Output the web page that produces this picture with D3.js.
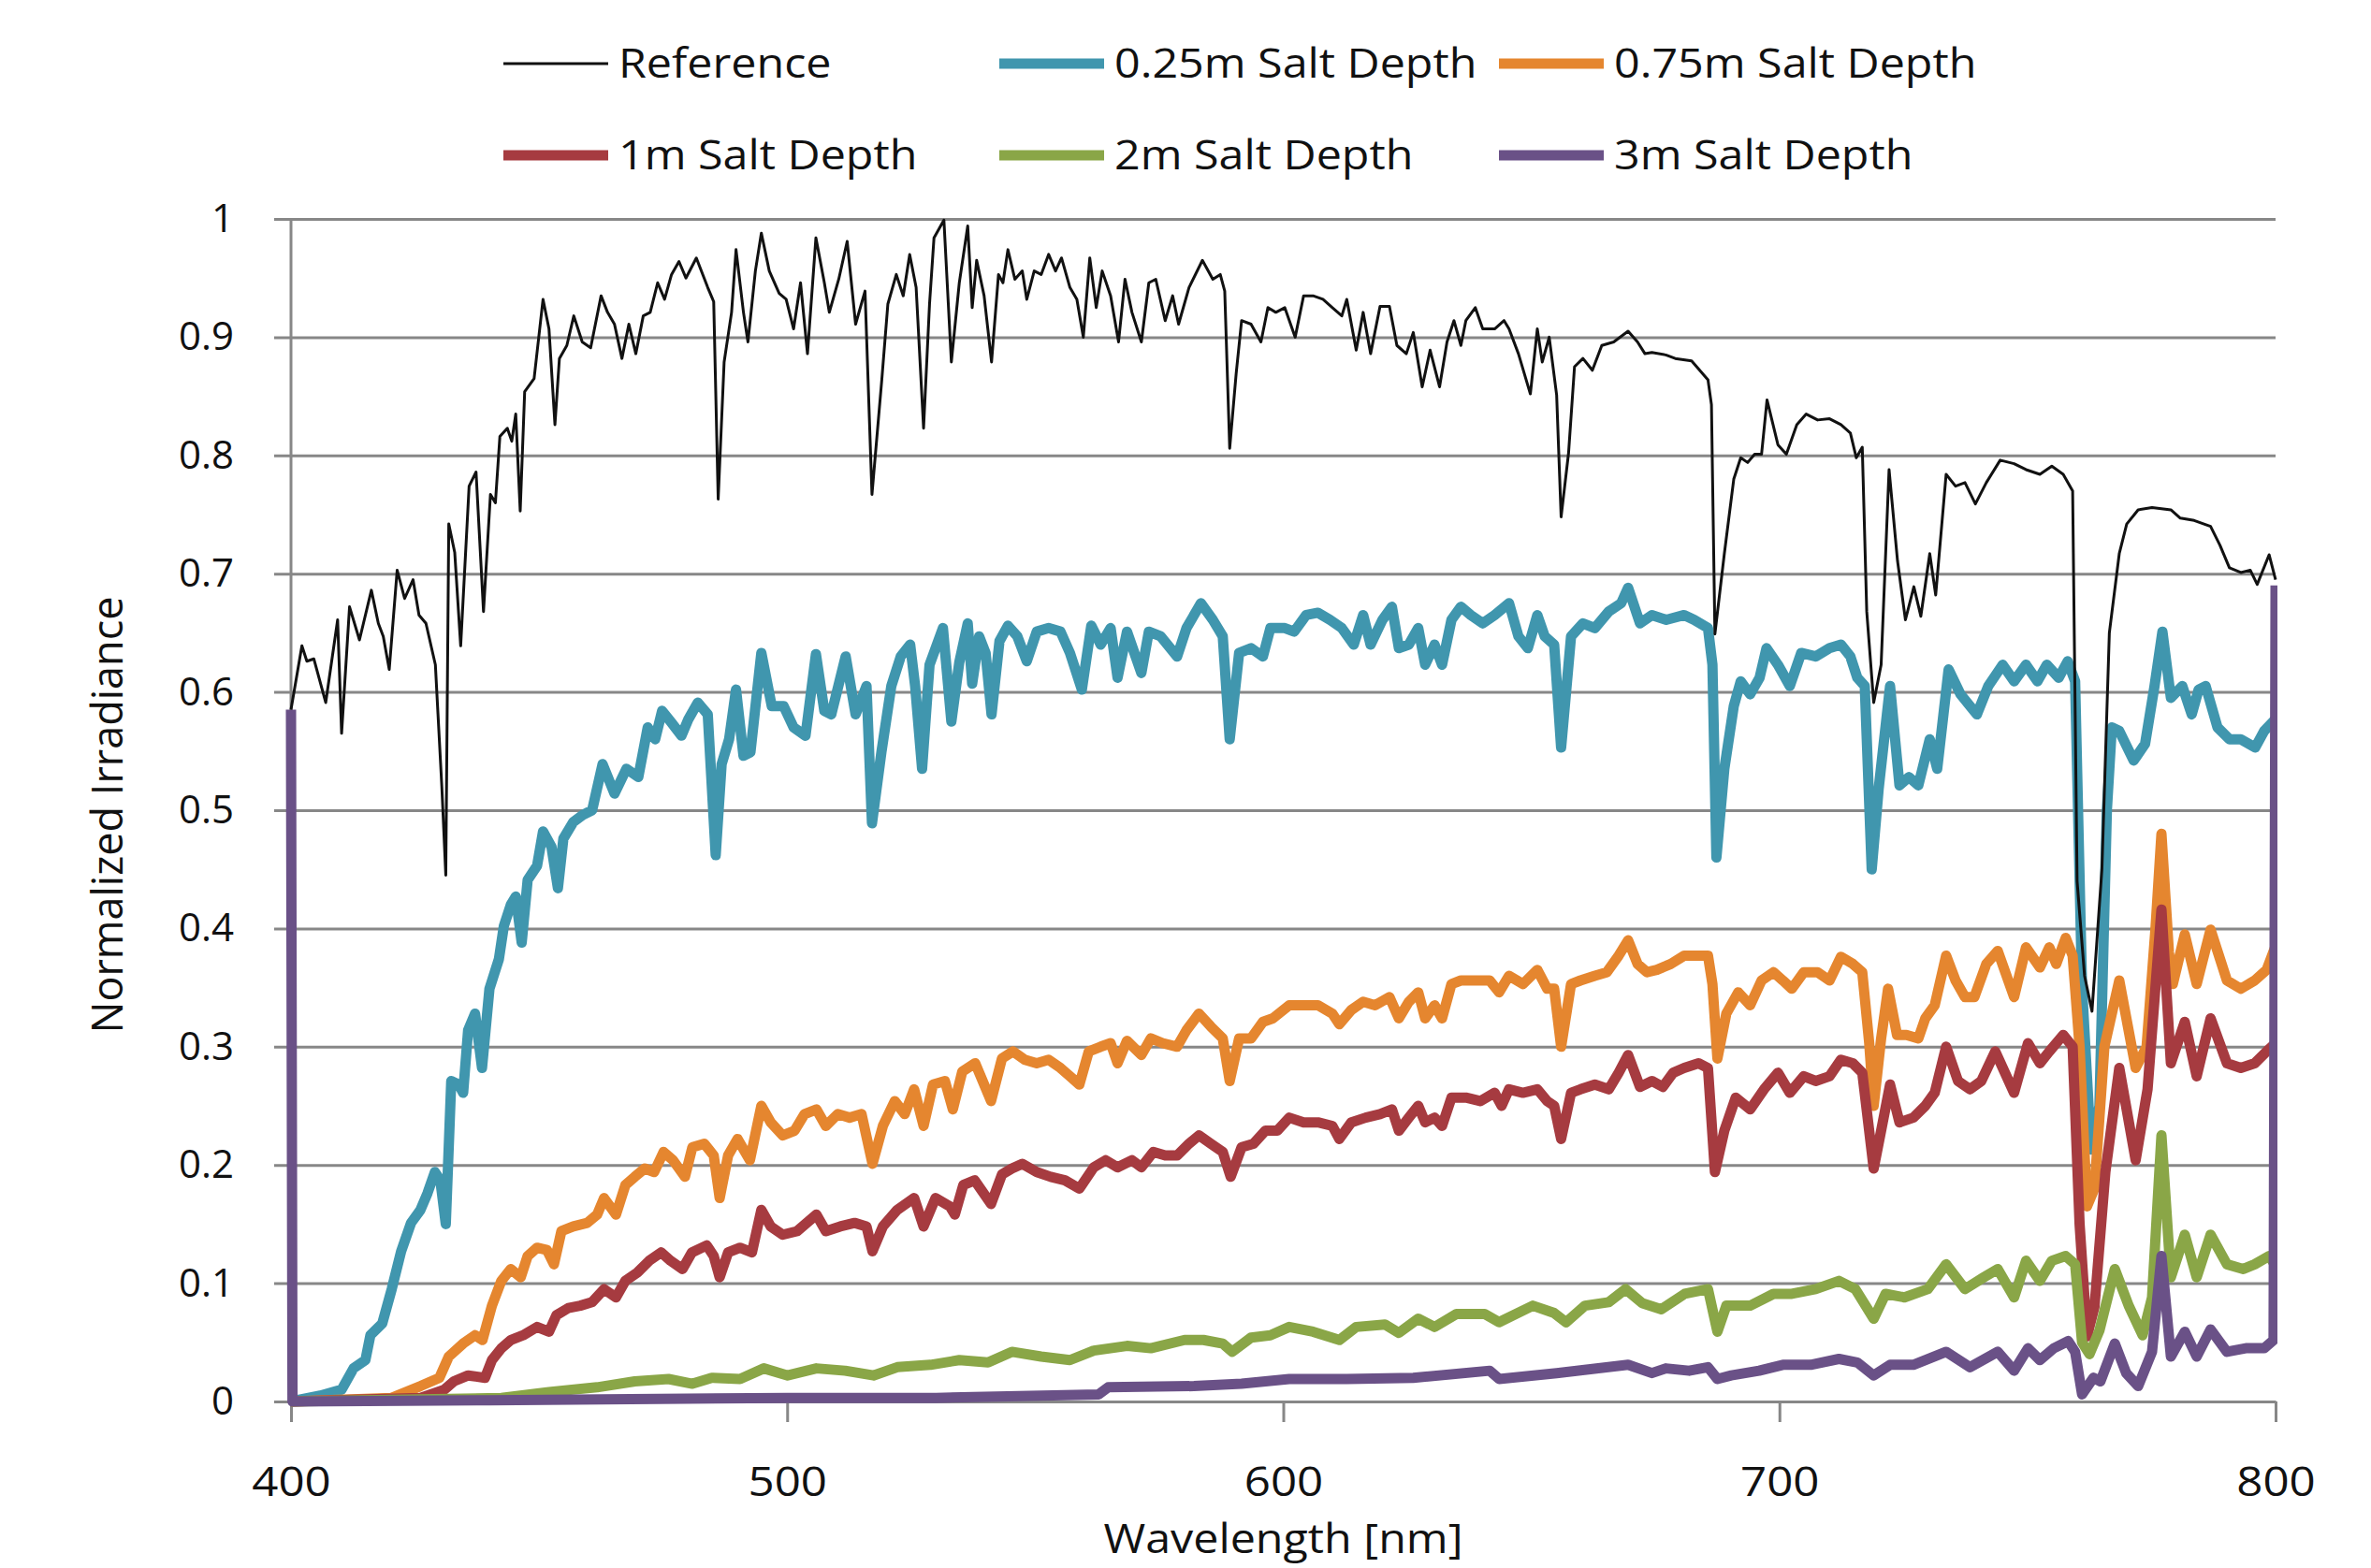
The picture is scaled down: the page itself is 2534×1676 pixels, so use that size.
<!DOCTYPE html>
<html>
<head>
<meta charset="utf-8">
<script src="https://cdnjs.cloudflare.com/ajax/libs/d3/7.8.5/d3.min.js"></script>
<style>
  body { margin: 0; background: #fff; }
  text { font-family: "Open Sans", "Liberation Sans", sans-serif; fill: #111; }
</style>
</head>
<body>
<svg width="2534" height="1676"></svg>
<script>
// series names, in legend order
var seriesNames = ["Reference", "0.25m Salt Depth", "0.75m Salt Depth", "1m Salt Depth", "2m Salt Depth", "3m Salt Depth"];
var xTicks = [400, 500, 600, 700, 800];
var yTicks = [0, 0.1, 0.2, 0.3, 0.4, 0.5, 0.6, 0.7, 0.8, 0.9, 1];

// [wavelength nm, normalized irradiance]
var reference = [[400,0.585],[402.2,0.639],[403.2,0.626],[404.6,0.628],[407,0.591],[409.4,0.661],[410.2,0.565],[411.8,0.672],[413.8,0.644],[416.2,0.686],[417.6,0.658],[418.6,0.647],[419.8,0.619],[421.4,0.703],[422.9,0.679],[424.6,0.695],[425.8,0.665],[427.2,0.658],[429.1,0.623],[430.4,0.52],[431.2,0.445],[431.8,0.742],[433,0.718],[434.2,0.639],[435.9,0.774],[437.3,0.786],[438.8,0.668],[440.2,0.767],[441.2,0.76],[442.1,0.816],[443.6,0.823],[444.5,0.812],[445.3,0.835],[446.2,0.753],[447.1,0.854],[449,0.865],[450.8,0.932],[452,0.907],[453.2,0.826],[454.1,0.882],[455.6,0.893],[457,0.918],[458.7,0.896],[460.4,0.891],[462.5,0.935],[463.8,0.921],[465.2,0.911],[466.7,0.882],[468.1,0.911],[469.5,0.886],[471,0.918],[472.4,0.921],[473.9,0.946],[475.3,0.932],[476.7,0.953],[478.2,0.964],[479.6,0.95],[481.7,0.967],[484,0.942],[485.2,0.93],[486.1,0.763],[487.3,0.879],[488.8,0.921],[489.7,0.974],[491.2,0.921],[492.1,0.896],[493.6,0.956],[494.8,0.988],[496.4,0.956],[498.4,0.937],[499.8,0.932],[501.3,0.907],[502.7,0.946],[504.1,0.886],[505.8,0.984],[507.5,0.946],[508.5,0.921],[510.4,0.949],[512.1,0.981],[513.8,0.911],[515.7,0.939],[517.1,0.767],[519.1,0.865],[520.3,0.928],[522,0.953],[523.4,0.935],[524.7,0.97],[526,0.942],[527.5,0.823],[528.7,0.928],[529.6,0.984],[531.6,0.999],[533.1,0.879],[534.7,0.946],[536.4,0.994],[537.3,0.925],[538.2,0.965],[539.7,0.935],[541.2,0.879],[542.6,0.953],[543.5,0.946],[544.5,0.974],[545.9,0.949],[547.4,0.956],[548.3,0.932],[549.8,0.956],[551.2,0.953],[552.7,0.97],[554.1,0.956],[555.3,0.967],[557,0.942],[558.4,0.932],[559.7,0.9],[561,0.967],[562.3,0.925],[563.5,0.956],[565.2,0.935],[566.8,0.896],[568.1,0.949],[569.5,0.921],[571.4,0.896],[572.9,0.946],[574.3,0.949],[576.2,0.914],[577.7,0.935],[578.9,0.911],[581,0.942],[583.7,0.965],[585.8,0.949],[587.3,0.953],[588.2,0.939],[589.2,0.806],[590.5,0.869],[591.6,0.914],[593.5,0.911],[595.5,0.896],[596.9,0.925],[598.5,0.921],[600.3,0.925],[602.4,0.9],[604.1,0.935],[606,0.935],[608,0.932],[609.9,0.925],[611.8,0.918],[612.8,0.932],[614.7,0.889],[616.1,0.921],[617.6,0.886],[619.5,0.926],[621.4,0.926],[622.9,0.893],[624.8,0.886],[626.2,0.904],[628,0.858],[629.6,0.889],[631.5,0.858],[633,0.896],[634.4,0.914],[635.8,0.893],[636.8,0.914],[638.7,0.925],[640.2,0.907],[642.6,0.907],[644.5,0.914],[645.5,0.907],[647.4,0.886],[649.8,0.852],[651.2,0.907],[652.2,0.879],[653.6,0.9],[655.1,0.851],[656,0.748],[657.5,0.802],[658.7,0.875],[660.4,0.882],[662.3,0.872],[664.2,0.893],[666.6,0.896],[669.5,0.905],[671.4,0.896],[672.9,0.886],[674.3,0.887],[677.1,0.885],[679,0.882],[682.3,0.88],[685.6,0.864],[686.3,0.843],[687,0.649],[688.9,0.717],[690.8,0.78],[692.2,0.798],[693.6,0.794],[695,0.801],[696.4,0.801],[697.5,0.847],[699.7,0.809],[701.4,0.801],[703.5,0.826],[705.4,0.835],[707.7,0.83],[710.1,0.831],[712.4,0.826],[714.3,0.819],[715.5,0.798],[716.7,0.807],[717.6,0.668],[719,0.591],[720.5,0.623],[722.1,0.788],[723.8,0.711],[725.4,0.661],[727.1,0.689],[728.5,0.664],[730.3,0.717],[731.5,0.682],[733.6,0.784],[735.5,0.774],[737.4,0.777],[739.5,0.759],[741.7,0.777],[744.5,0.796],[747.3,0.793],[749.7,0.788],[752.5,0.784],[754.9,0.791],[757.2,0.784],[759.1,0.77],[760,0.44],[761.5,0.36],[763,0.33],[765,0.45],[766.5,0.65],[768.5,0.717],[770,0.742],[772.3,0.754],[775.1,0.756],[778.9,0.754],[780.8,0.747],[783.6,0.745],[786.9,0.74],[788.8,0.724],[790.7,0.705],[793,0.701],[794.9,0.703],[796.3,0.691],[798.7,0.716],[800,0.695]];

var depth025 = [[400,0],[405.9,0.005],[410.2,0.01],[412.6,0.028],[415,0.035],[416,0.056],[418.4,0.066],[420.3,0.095],[422.2,0.127],[424.2,0.151],[426.1,0.162],[427.5,0.176],[429,0.194],[430.1,0.187],[431.2,0.15],[432.3,0.271],[433.8,0.268],[434.7,0.261],[435.7,0.314],[437.1,0.328],[438.5,0.282],[440,0.349],[441.9,0.374],[442.9,0.402],[444.3,0.42],[445.3,0.427],[446.5,0.388],[447.7,0.441],[449.6,0.453],[450.8,0.482],[451.6,0.476],[452.5,0.469],[453.8,0.434],[454.9,0.476],[456.9,0.49],[458.8,0.496],[460.7,0.5],[462.8,0.539],[465.2,0.514],[467.6,0.535],[470,0.528],[471.9,0.57],[473.4,0.56],[474.8,0.584],[476.7,0.574],[478.7,0.563],[480.1,0.577],[482,0.591],[484,0.581],[485.6,0.462],[486.8,0.539],[488.3,0.56],[489.7,0.602],[491.2,0.546],[492.6,0.549],[494.8,0.633],[496.9,0.588],[499.3,0.588],[501.3,0.57],[503.7,0.563],[505.8,0.632],[507.5,0.584],[508.9,0.581],[511.8,0.63],[513.8,0.581],[516,0.605],[517.1,0.489],[519,0.549],[521,0.605],[522.9,0.63],[524.8,0.64],[525.8,0.605],[527.2,0.535],[528.7,0.623],[531.4,0.654],[533.1,0.575],[534.7,0.625],[536.4,0.658],[537.3,0.607],[538.7,0.647],[540,0.633],[541.2,0.581],[542.8,0.643],[544.5,0.656],[546.4,0.647],[548.3,0.626],[550.3,0.651],[552.7,0.654],[555.1,0.651],[557,0.633],[559.4,0.602],[561.3,0.656],[563.2,0.64],[565.2,0.654],[566.6,0.612],[568.5,0.651],[571.4,0.616],[572.9,0.651],[575.3,0.647],[578.6,0.63],[580.5,0.654],[583.4,0.675],[585.8,0.661],[587.8,0.647],[589.2,0.56],[591.1,0.633],[593.5,0.637],[595.9,0.63],[597.4,0.654],[600.3,0.654],[602.2,0.651],[604.6,0.665],[607,0.667],[609.4,0.661],[611.8,0.654],[614.2,0.64],[616.1,0.665],[617.6,0.64],[620,0.661],[621.9,0.672],[623.3,0.637],[625.3,0.64],[627.2,0.654],[628.6,0.623],[630.5,0.64],[632,0.623],[633.9,0.661],[635.8,0.672],[637.8,0.665],[640.2,0.658],[642.6,0.665],[645.5,0.675],[647.4,0.647],[649.3,0.637],[651.2,0.665],[652.7,0.647],[654.6,0.64],[656,0.553],[658,0.647],[660.4,0.658],[662.8,0.654],[665.6,0.668],[668.1,0.675],[669.5,0.688],[671.9,0.658],[674.3,0.665],[677.2,0.661],[680.8,0.665],[682.8,0.661],[685.6,0.654],[686.5,0.623],[687.3,0.46],[688.9,0.535],[690.8,0.588],[692.2,0.609],[694.1,0.598],[696,0.612],[697.4,0.637],[699.7,0.623],[702.1,0.605],[704.4,0.633],[707.3,0.63],[710.1,0.637],[712.4,0.64],[714.3,0.63],[715.7,0.612],[717.2,0.605],[718.6,0.45],[720,0.518],[722.3,0.605],[724.2,0.521],[726.1,0.528],[728,0.521],[730.3,0.56],[731.8,0.535],[734.1,0.619],[736.5,0.598],[739.8,0.581],[742.1,0.605],[745,0.623],[747.3,0.609],[749.7,0.623],[752,0.609],[753.9,0.623],[756.3,0.612],[758.1,0.626],[759.6,0.609],[761,0.35],[762.8,0.213],[764.5,0.25],[766,0.5],[767,0.57],[768.5,0.567],[771.4,0.542],[773.7,0.556],[775.6,0.605],[777.2,0.651],[778.9,0.595],[781.2,0.605],[783.1,0.581],[784.5,0.602],[785.9,0.605],[788.3,0.57],[790.7,0.56],[793,0.56],[795.9,0.553],[797.7,0.567],[800,0.577]];

var depth075 = [[400,0],[420.3,0.003],[426.1,0.013],[429.9,0.02],[431.8,0.038],[434.7,0.049],[437.1,0.056],[438.6,0.052],[440.5,0.081],[442.4,0.102],[444.3,0.112],[446.3,0.105],[447.7,0.123],[449.6,0.13],[451.6,0.128],[453,0.116],[454.5,0.144],[456.9,0.148],[459.7,0.151],[461.7,0.158],[463.1,0.172],[465.5,0.158],[467.4,0.183],[469.3,0.19],[471.3,0.197],[473.2,0.194],[475.1,0.211],[477,0.204],[479.4,0.19],[480.9,0.215],[483.3,0.218],[485.2,0.208],[486.4,0.172],[488.1,0.208],[490,0.222],[492.5,0.204],[494.8,0.25],[496.7,0.236],[499.1,0.225],[501.5,0.229],[503.5,0.243],[505.9,0.247],[507.8,0.233],[510.2,0.243],[512.6,0.24],[515,0.243],[517.2,0.201],[519.3,0.233],[521.7,0.254],[523.7,0.243],[525.6,0.264],[527.5,0.233],[529.4,0.268],[531.8,0.271],[533.4,0.247],[535.3,0.279],[537.9,0.286],[541.1,0.254],[543.3,0.29],[545.5,0.296],[547.9,0.289],[550.3,0.286],[552.7,0.289],[555.1,0.282],[557,0.275],[558.9,0.268],[560.8,0.296],[563.2,0.3],[565.2,0.303],[566.6,0.286],[568.5,0.305],[571.4,0.293],[573.3,0.307],[575.7,0.303],[578.6,0.3],[580.5,0.314],[583,0.328],[585.4,0.317],[587.8,0.307],[589.2,0.271],[591.1,0.307],[593.5,0.307],[595.9,0.321],[597.9,0.324],[601.2,0.335],[604.1,0.335],[607,0.335],[609.9,0.328],[611.3,0.319],[613.7,0.331],[616.1,0.338],[618.5,0.335],[621.4,0.342],[623.3,0.324],[625.3,0.338],[627.2,0.346],[628.6,0.324],[630.5,0.335],[632,0.324],[633.9,0.353],[635.8,0.356],[638.7,0.356],[641.6,0.356],[643.5,0.346],[645.5,0.36],[648.3,0.353],[651.2,0.365],[653.2,0.349],[654.6,0.349],[656,0.3],[658,0.353],[659.9,0.356],[662.8,0.36],[665.2,0.363],[667.6,0.377],[669.5,0.39],[671.4,0.37],[673.3,0.363],[675.3,0.365],[678.1,0.37],[680.8,0.377],[682.8,0.377],[685.6,0.377],[686.5,0.353],[687.5,0.29],[689.3,0.328],[691.7,0.346],[694.1,0.335],[696.4,0.356],[698.8,0.363],[700.7,0.356],[702.5,0.349],[704.9,0.363],[707.7,0.363],[710.1,0.356],[712.4,0.376],[714.8,0.37],[716.7,0.363],[718.1,0.303],[719,0.25],[720.5,0.307],[721.9,0.349],[723.7,0.31],[725.6,0.31],[728,0.307],[729.4,0.324],[731.3,0.335],[733.6,0.377],[735.5,0.356],[737.4,0.342],[739.3,0.342],[741.7,0.37],[744,0.381],[747.3,0.342],[749.7,0.384],[752.5,0.367],[754.4,0.384],[755.8,0.37],[757.7,0.392],[759.1,0.377],[760.5,0.3],[762,0.165],[763.5,0.18],[765.5,0.3],[768.5,0.356],[771.8,0.282],[774,0.3],[775.8,0.4],[777,0.48],[778.5,0.38],[779.3,0.353],[781.7,0.395],[784.1,0.353],[786.9,0.399],[790.2,0.356],[793,0.349],[795.8,0.356],[798.2,0.365],[800,0.385]];

var depth1 = [[400,0],[426.1,0.003],[430.9,0.01],[432.8,0.017],[435.7,0.022],[439.1,0.02],[440.5,0.035],[442.4,0.045],[444.3,0.052],[446.8,0.056],[449.6,0.063],[452,0.059],[453.5,0.073],[455.9,0.079],[458.3,0.081],[460.7,0.084],[463.1,0.095],[465.5,0.088],[467.4,0.102],[469.8,0.109],[472.2,0.119],[474.6,0.126],[476.5,0.119],[478.9,0.112],[480.8,0.126],[483.8,0.132],[485.2,0.123],[486.4,0.105],[488.1,0.126],[490.5,0.13],[492.9,0.126],[494.8,0.162],[496.7,0.148],[499.1,0.141],[502,0.144],[505.9,0.158],[507.8,0.144],[510.7,0.148],[513.6,0.151],[516,0.148],[517.2,0.127],[519.3,0.148],[522.2,0.162],[525.6,0.172],[527.5,0.148],[529.9,0.172],[532.8,0.165],[533.8,0.158],[535.5,0.183],[537.8,0.187],[541.1,0.167],[543.3,0.192],[545.3,0.197],[547.4,0.201],[550.3,0.194],[553.1,0.19],[556,0.187],[558.9,0.18],[561.8,0.198],[564.2,0.204],[566.6,0.198],[569.5,0.204],[571.4,0.198],[573.8,0.211],[576.2,0.208],[578.6,0.208],[581,0.218],[583,0.225],[585.4,0.218],[587.8,0.211],[589.4,0.19],[591.6,0.215],[594,0.218],[596.4,0.229],[598.8,0.229],[601.2,0.24],[604.1,0.236],[607,0.236],[609.9,0.233],[611.3,0.222],[613.7,0.236],[616.6,0.24],[619.5,0.243],[621.9,0.247],[623.3,0.229],[625.3,0.24],[627.2,0.25],[628.6,0.236],[630.5,0.24],[632,0.233],[633.9,0.257],[636.8,0.257],[639.7,0.254],[642.6,0.261],[644,0.25],[645.5,0.264],[648.3,0.261],[651.2,0.264],[653.2,0.254],[654.6,0.25],[656,0.222],[658,0.261],[659.9,0.264],[662.8,0.268],[665.6,0.264],[667.6,0.278],[669.5,0.293],[671.9,0.266],[674.3,0.271],[676.5,0.266],[678.6,0.278],[680.8,0.282],[683.7,0.286],[685.6,0.282],[687,0.194],[688.9,0.229],[691.2,0.257],[694.1,0.247],[696.9,0.264],[699.7,0.278],[702.1,0.261],[704.9,0.275],[707.3,0.271],[710.1,0.275],[712.4,0.289],[714.8,0.286],[716.7,0.278],[719,0.197],[720.5,0.229],[722.3,0.268],[724.2,0.236],[727,0.24],[729.4,0.25],[731.3,0.261],[733.6,0.3],[736,0.271],[738.4,0.264],[740.7,0.271],[743.5,0.296],[747.3,0.261],[750.1,0.303],[752.5,0.286],[754.4,0.296],[757.2,0.31],[759.1,0.3],[760.5,0.15],[762,0.055],[763.5,0.08],[765.7,0.194],[768.5,0.282],[771.8,0.204],[774.2,0.264],[777,0.416],[778.9,0.286],[781.7,0.321],[784.1,0.275],[786.9,0.324],[790.2,0.286],[793,0.282],[795.8,0.286],[798.2,0.296],[800,0.303]];

var depth2 = [[400,0],[442.4,0.003],[452,0.008],[461.7,0.012],[469.3,0.017],[476.1,0.019],[480.9,0.015],[484.8,0.02],[490.5,0.019],[495.3,0.028],[500.1,0.022],[505.9,0.028],[511.7,0.026],[517.4,0.022],[522.2,0.029],[528.9,0.031],[534.7,0.035],[540.5,0.033],[545.3,0.042],[551.2,0.038],[557,0.035],[561.8,0.043],[568.5,0.047],[573.3,0.045],[580.1,0.052],[583.9,0.052],[587.8,0.049],[589.7,0.042],[593.5,0.054],[597.4,0.056],[601.2,0.063],[606,0.059],[611.3,0.052],[614.7,0.063],[620.5,0.065],[623.3,0.058],[627.2,0.07],[630.5,0.063],[634.9,0.074],[640.6,0.074],[643.5,0.067],[650.3,0.081],[654.5,0.075],[657,0.067],[660.8,0.081],[665.6,0.084],[669,0.095],[672.4,0.083],[676.2,0.078],[680.9,0.091],[685.6,0.095],[687.5,0.059],[689.3,0.081],[694.1,0.081],[698.8,0.091],[702.5,0.091],[707.3,0.095],[712,0.102],[715.3,0.095],[719,0.07],[721.4,0.091],[725.2,0.088],[729.9,0.095],[733.6,0.116],[737.4,0.095],[741.2,0.105],[744,0.112],[747.3,0.088],[749.7,0.119],[752.5,0.102],[754.9,0.119],[757.7,0.123],[759.6,0.116],[761,0.05],[762.5,0.04],[764.5,0.06],[767.6,0.112],[770.4,0.081],[773.2,0.056],[775.1,0.088],[777,0.225],[778.9,0.105],[781.7,0.141],[784.1,0.105],[786.9,0.141],[790.2,0.116],[793.5,0.112],[795.8,0.116],[798.7,0.123],[800,0.115]];

var depth3 = [[400,0.585],[400.3,0],[440,0.001],[500,0.003],[530,0.003],[562.8,0.006],[564.7,0.012],[582,0.013],[591.6,0.015],[601.2,0.019],[612.8,0.019],[626.2,0.02],[641.6,0.026],[643.5,0.019],[655.1,0.024],[669.5,0.031],[674.3,0.024],[677.1,0.028],[681.8,0.026],[685.6,0.029],[687.5,0.019],[690.3,0.022],[695.9,0.026],[700.7,0.031],[706.3,0.031],[712,0.036],[715.7,0.033],[719,0.022],[722.3,0.031],[727,0.031],[733.6,0.042],[738.4,0.029],[744,0.042],[747.3,0.026],[750.1,0.045],[752.5,0.035],[755.3,0.045],[758.2,0.051],[759.6,0.042],[761,0.006],[763.3,0.02],[764.7,0.017],[767.6,0.049],[769.9,0.024],[772.3,0.013],[775.1,0.042],[777,0.123],[778.9,0.038],[781.7,0.059],[784.1,0.038],[786.9,0.061],[790.2,0.042],[794,0.045],[797.7,0.045],[799.6,0.052],[800,0.69]];

var colors = ["#111111", "#4096ae", "#e5862f", "#a63b40", "#8aa647", "#6a5187"];
var widths = [3, 11, 11, 11, 11, 11];
var allSeries = [reference, depth025, depth075, depth1, depth2, depth3];

var svg = d3.select("svg"),
    plotLeft = 311, plotRight = 2432, plotTop = 234, plotBottom = 1498;

var x = d3.scaleLinear().domain([400, 800]).range([plotLeft, plotRight]);
var y = d3.scaleLinear().domain([0, 1]).range([plotBottom, plotTop]);

// gridlines + y axis labels
var yAxis = svg.append("g")
    .attr("transform", "translate(" + plotLeft + ",0)")
    .call(d3.axisLeft(y).tickValues(yTicks).tickFormat(d3.format("~g"))
      .tickSizeInner(0).tickSizeOuter(0).tickPadding(61));
yAxis.select(".domain").remove();
yAxis.selectAll(".tick line")
    .attr("x1", -18).attr("x2", plotRight - plotLeft)
    .attr("stroke", "#878787").attr("stroke-width", 3);
yAxis.selectAll(".tick text")
    .style("font-size", "42px").attr("fill", "#111");

// y axis line
svg.append("line")
    .attr("x1", plotLeft).attr("x2", plotLeft).attr("y1", plotTop).attr("y2", plotBottom)
    .attr("stroke", "#878787").attr("stroke-width", 3);

var xAxis = svg.append("g")
    .attr("transform", "translate(0," + plotBottom + ")")
    .call(d3.axisBottom(x).tickValues(xTicks).tickFormat(d3.format("d"))
      .tickSizeInner(22).tickSizeOuter(0).tickPadding(48));
xAxis.select(".domain").attr("stroke", "#878787").attr("stroke-width", 3);
xAxis.selectAll(".tick line").attr("stroke", "#878787").attr("stroke-width", 3);
xAxis.selectAll(".tick text")
    .style("font-size", "44px").attr("fill", "#111")
    .attr("transform", "scale(1.12,1)");

svg.append("defs").append("clipPath").attr("id", "plotclip")
  .append("rect").attr("x", 300).attr("y", 0).attr("width", plotRight - 300 + 2).attr("height", 1676);

var line = d3.line()
    .x(function(d) { return x(d[0]); })
    .y(function(d) { return y(d[1]); });

// draw coloured series first, reference last (it sits on top in the original)
var order = [1, 2, 3, 4, 5, 0];
var plot = svg.append("g").attr("clip-path", "url(#plotclip)");
order.forEach(function(i) {
  plot.append("path")
      .datum(allSeries[i])
      .attr("d", line)
      .attr("fill", "none")
      .attr("stroke", colors[i])
      .attr("stroke-width", widths[i])
      .attr("stroke-linejoin", "round");
});

// legend, two rows of three
var legendCols = [538, 1068, 1602];
var legendRows = [68, 166];
seriesNames.forEach(function(name, i) {
  var cx = legendCols[i % 3], cy = legendRows[Math.floor(i / 3)];
  svg.append("line")
      .attr("x1", cx).attr("x2", cx + 112).attr("y1", cy).attr("y2", cy)
      .attr("stroke", colors[i]).attr("stroke-width", i === 0 ? 3 : 11);
  svg.append("text")
      .attr("transform", "translate(" + (cx + 123) + "," + (cy + 15) + ") scale(1.1,1)")
      .style("font-size", "44px")
      .text(name);
});

// axis titles
svg.append("text")
    .attr("transform", "translate(" + ((plotLeft + plotRight) / 2) + ",1660) scale(1.1,1)")
    .attr("text-anchor", "middle")
    .style("font-size", "44px")
    .text("Wavelength [nm]");

svg.append("text")
    .attr("transform", "translate(131," + ((plotTop + plotBottom) / 2 + 5) + ") rotate(-90)")
    .attr("text-anchor", "middle")
    .style("font-size", "45px")
    .text("Normalized Irradiance");
</script>
</body>
</html>
